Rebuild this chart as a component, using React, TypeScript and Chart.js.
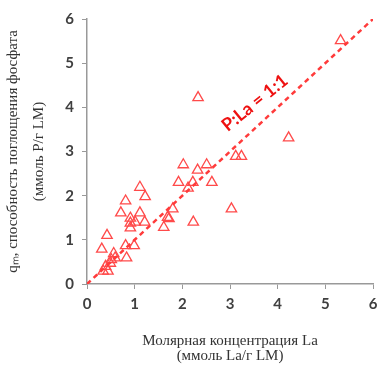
import React, { useEffect, useRef } from "react";
import { Chart, registerables } from "chart.js";

Chart.register(...registerables);

const laConc: number[] = [
  5.32, 2.33, 4.23, 3.12, 3.24, 2.02, 2.51, 2.32, 1.92, 2.22,
  2.62, 2.12, 1.11, 1.22, 0.81, 0.71, 1.11, 0.91, 0.91, 0.91,
  1.01, 1.21, 1.80, 1.69, 1.61, 1.72, 3.03, 2.23, 0.42, 0.31,
  0.81, 0.99, 0.56, 0.83, 0.59, 0.49, 0.39, 0.44, 0.34, 0.51,
];
const qm: number[] = [
  5.51, 4.22, 3.31, 2.89, 2.89, 2.70, 2.70, 2.58, 2.30, 2.30,
  2.30, 2.17, 2.19, 1.98, 1.88, 1.61, 1.61, 1.49, 1.38, 1.27,
  1.40, 1.40, 1.70, 1.51, 1.28, 1.48, 1.70, 1.40, 1.10, 0.79,
  0.87, 0.87, 0.69, 0.59, 0.59, 0.47, 0.40, 0.29, 0.29, 0.55,
];
const refLineX: number[] = [0, 6];
const refLineY: number[] = [0, 6];
const refLabel = "P:La = 1:1";
const refLabelPos = { x: 3.52, y: 4.1 };
const refLabelAngleDeg = -39;
const axisTicks: number[] = [0, 1, 2, 3, 4, 5, 6];
const xTitle = ["Молярная концентрация La", "(ммоль La/г LM)"];
const yTitle = ["qₘ, способность поглощения фосфата", "(ммоль P/г LM)"];

const RED = "#ff3b3b";

const labelPlugin = {
  id: "refLabel",
  afterDatasetsDraw(chart: any) {
    const { ctx, scales } = chart;
    const px = scales.x.getPixelForValue(refLabelPos.x);
    const py = scales.y.getPixelForValue(refLabelPos.y);
    ctx.save();
    ctx.translate(px, py);
    ctx.rotate((refLabelAngleDeg * Math.PI) / 180);
    ctx.fillStyle = "#ee1111";
    ctx.font = "bold 18px Lato, 'Open Sans', sans-serif";
    ctx.textAlign = "center";
    ctx.textBaseline = "middle";
    ctx.fillText(refLabel, 0, 0);
    ctx.restore();
  },
};

export default function App() {
  const ref = useRef<HTMLCanvasElement | null>(null);
  useEffect(() => {
    if (!ref.current) return;
    const chart = new Chart(ref.current, {
      type: "scatter",
      data: {
        datasets: [
          {
            type: "line",
            data: refLineX.map((x, i) => ({ x, y: refLineY[i] })),
            borderColor: RED,
            borderWidth: 2.5,
            borderDash: [5, 4],
            pointRadius: 0,
            fill: false,
          } as any,
          {
            type: "scatter",
            data: laConc.map((x, i) => ({ x, y: qm[i] })),
            pointStyle: "triangle",
            pointRadius: 6,
            pointBorderColor: "#ff4a4a",
            pointBackgroundColor: "rgba(255,255,255,0)",
            pointBorderWidth: 1.3,
          } as any,
        ],
      },
      options: {
        animation: false,
        responsive: false,
        events: [],
        layout: { autoPadding: false, padding: { top: 19, right: 4, left: 0, bottom: 0 } },
        plugins: { legend: { display: false }, tooltip: { enabled: false } },
        scales: {
          x: {
            type: "linear",
            min: 0,
            max: 6,
            afterBuildTicks: (s: any) => {
              s.ticks = axisTicks.map((v) => ({ value: v }));
            },
            afterFit: (s: any) => {
              s.height = 81;
              s.paddingRight = 0;
              s.paddingLeft = 0;
            },
            grid: {
              drawOnChartArea: false,
              drawTicks: true,
              tickLength: 5,
              color: "#999",
            },
            border: { display: true, color: "#999", width: 1.5 },
            ticks: {
              color: "#404040",
              font: { family: "Lato, 'Open Sans', sans-serif", size: 15, weight: "bold" },
              padding: 6,
            },
            title: {
              display: true,
              text: xTitle,
              color: "#333",
              font: { family: "'Liberation Serif', 'Times New Roman', serif", size: 15, lineHeight: 0.97 },
              padding: { top: 0, bottom: 2 },
            },
          },
          y: {
            type: "linear",
            min: 0,
            max: 6,
            afterBuildTicks: (s: any) => {
              s.ticks = axisTicks.map((v) => ({ value: v }));
            },
            afterFit: (s: any) => {
              s.width = 87;
            },
            grid: {
              drawOnChartArea: false,
              drawTicks: true,
              tickLength: 5,
              color: "#999",
            },
            border: { display: true, color: "#999", width: 1.5 },
            ticks: {
              color: "#404040",
              font: { family: "Lato, 'Open Sans', sans-serif", size: 15, weight: "bold" },
              padding: 8,
            },
            title: {
              display: true,
              text: yTitle,
              color: "#333",
              font: { family: "'Liberation Serif', 'Times New Roman', serif", size: 15, lineHeight: 1.73 },
              padding: { top: 0, bottom: 0 },
            },
          },
        },
      },
      plugins: [labelPlugin],
    } as any);
    return () => chart.destroy();
  }, []);
  return (
    <div style={{ position: "fixed", left: 0, top: 0, width: 377, height: 365, background: "#fff" }}>
      <canvas ref={ref} width={377} height={365} style={{ width: 377, height: 365, display: "block" }} />
    </div>
  );
}
